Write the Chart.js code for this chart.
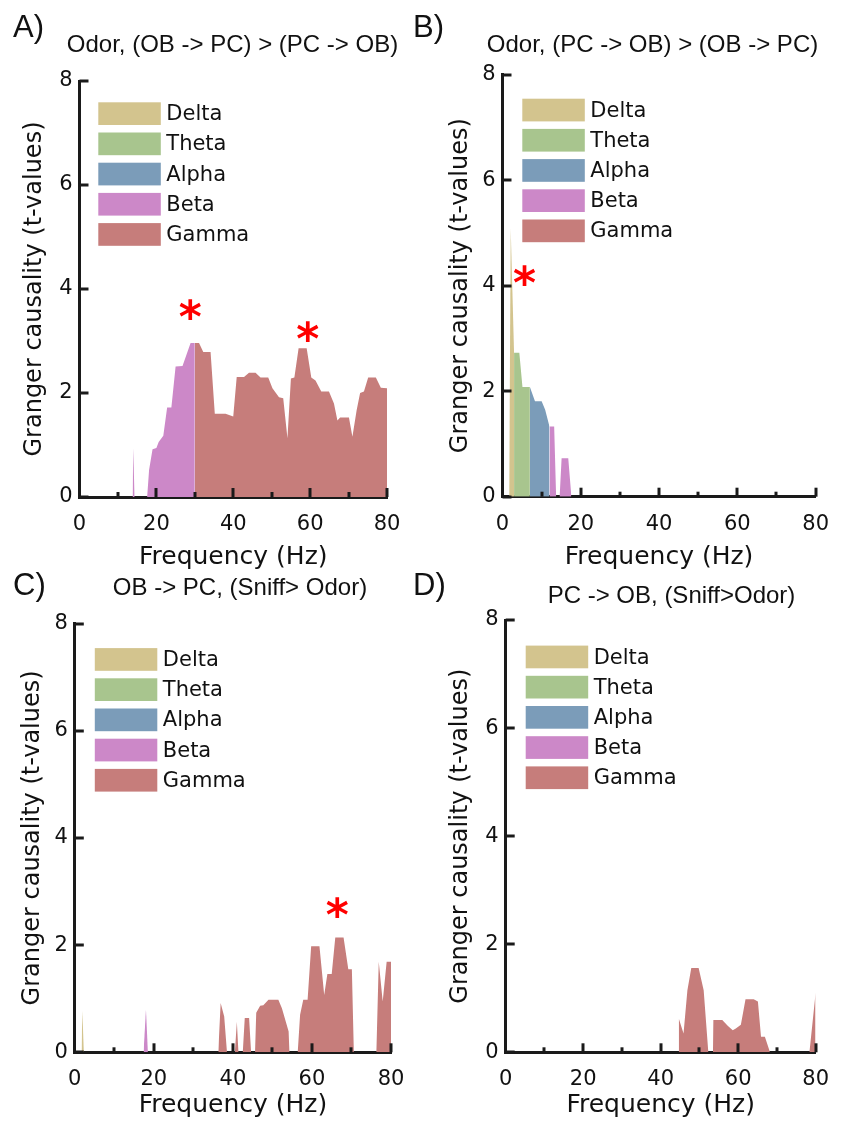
<!DOCTYPE html>
<html><head><meta charset="utf-8">
<script src="https://cdn.jsdelivr.net/npm/chart.js@4.4.1/dist/chart.umd.min.js"></script>
<style>
html,body{margin:0;padding:0;background:#fff;}
body{width:844px;height:1131px;position:relative;overflow:hidden;}
canvas{position:absolute;}
</style></head><body>
<canvas id="cA" width="422" height="585" style="left:0;top:0"></canvas>
<canvas id="cB" width="444" height="585" style="left:400px;top:0"></canvas>
<canvas id="cC" width="422" height="571" style="left:0;top:560px"></canvas>
<canvas id="cD" width="444" height="571" style="left:400px;top:560px"></canvas>
<script>
// ---------------- DATA ----------------
const bands = ['Delta', 'Theta', 'Alpha', 'Beta', 'Gamma'];
const xTickLabels = ['0', '20', '40', '60', '80'];
const yTickLabels = ['0', '2', '4', '6', '8'];

// Panel A: Odor, (OB -> PC) > (PC -> OB)
const aBetaHz  = [13.8, 14.0, 14.3, 17.6, 18.1, 19.0, 20.0, 20.6, 21.8, 22.8, 23.9, 25.0, 26.8, 28.9, 30.0];
const aBetaT   = [0, 0.94, 0, 0, 0.52, 0.92, 0.94, 1.06, 1.18, 1.72, 1.72, 2.51, 2.52, 2.96, 2.96];
const aGammaHz = [30.0, 31.1, 32.2, 34.1, 35.2, 38.0, 40.0, 40.9, 42.8, 44.1, 45.8, 47.1, 49.1, 50.2, 51.9, 53.0, 54.1, 55.0, 55.9, 57.0, 59.1, 60.3, 61.4, 62.9, 64.9, 66.2, 67.1, 67.8, 70.1, 71.0, 72.1, 73.0, 74.0, 75.1, 77.1, 78.4, 80.0];
const aGammaT  = [2.96, 2.96, 2.79, 2.79, 1.60, 1.60, 1.55, 2.31, 2.31, 2.39, 2.39, 2.30, 2.30, 2.09, 1.92, 1.90, 1.13, 2.28, 2.30, 2.86, 2.86, 2.30, 2.24, 2.03, 2.03, 1.80, 1.47, 1.53, 1.53, 1.16, 1.67, 2.00, 2.03, 2.30, 2.30, 2.10, 2.09];
const aStarHz  = [28.8, 59.4];
const aStarT   = [3.6, 3.19];

// Panel B: Odor, (PC -> OB) > (OB -> PC)
const bDeltaHz = [1.7, 2.1, 2.95];
const bDeltaT  = [0, 5.08, 2.73];
const bThetaHz = [2.95, 4.3, 5.1, 7.0];
const bThetaT  = [2.73, 2.73, 2.08, 2.08];
const bAlphaHz = [7.0, 8.3, 10.0, 10.9, 12.0];
const bAlphaT  = [2.08, 1.81, 1.81, 1.65, 1.33];
const bBetaHz  = [12.0, 13.2, 13.7, 14.6, 15.1, 16.8, 17.6];
const bBetaT   = [1.33, 1.33, 0, 0, 0.73, 0.73, 0];
const bStarHz  = [5.6];
const bStarT   = [4.2];

// Panel C: OB -> PC, (Sniff> Odor)
const cDeltaHz = [1.7, 1.9, 2.3];
const cDeltaT  = [0, 0.77, 0];
const cBetaHz  = [17.4, 18.0, 18.5];
const cBetaT   = [0, 0.80, 0];
const cGammaHz = [36.3, 36.9, 37.8, 38.5, 40.5, 41.0, 41.4, 42.5, 43.0, 44.1, 44.6, 45.6, 45.9, 46.9, 47.7, 49.0, 51.5, 52.4, 54.1, 54.3, 56.4, 57.0, 57.8, 58.9, 59.8, 61.9, 63.1, 63.9, 65.0, 65.9, 68.0, 69.2, 70.1, 70.6, 76.3, 76.9, 77.9, 78.9, 80.0];
const cGammaT  = [0, 0.92, 0.67, 0, 0, 0.57, 0, 0, 0.64, 0.64, 0, 0, 0.74, 0.87, 0.88, 0.98, 0.98, 0.82, 0.39, 0, 0, 0.70, 0.98, 0.98, 1.98, 1.98, 1.07, 1.46, 1.46, 2.14, 2.14, 1.55, 1.55, 0, 0, 1.69, 0.95, 1.69, 1.69];
const cStarHz  = [66.4];
const cStarT   = [2.7];

// Panel D: PC -> OB, (Sniff>Odor)
const dGammaHz = [44.6, 44.7, 45.9, 46.9, 47.9, 49.8, 51.1, 52.3, 53.5, 53.6, 55.9, 57.3, 58.6, 59.4, 60.7, 61.9, 64.0, 65.1, 65.9, 66.9, 67.9, 68.2, 78.4, 80.0];
const dGammaT  = [0, 0.62, 0.35, 1.15, 1.56, 1.56, 1.15, 0, 0, 0.60, 0.60, 0.49, 0.41, 0.44, 0.51, 0.98, 0.98, 0.94, 0.29, 0.29, 0.07, 0, 0, 1.10];

// ---------------- STYLE ----------------
const bandColors = ['#D3C48E', '#A8C58E', '#7B9CB9', '#CC88C8', '#C67D7B'];
const AXIS = '#1a1a1a';
const TXT = '#111111';
const SANS = '"DejaVu Sans", Verdana, sans-serif';
const ARIAL = '"Liberation Sans", Arial, sans-serif';

function pts(hz, t) { return hz.map((h, i) => ({x: h, y: t[i]})); }

const extras = {
  id: 'extras',
  afterDatasetsDraw(chart, args, o) {
    const ctx = chart.ctx, xs = chart.scales.x, ys = chart.scales.y, a = chart.chartArea;
    ctx.save();
    ctx.strokeStyle = AXIS; ctx.lineWidth = 3; ctx.lineCap = 'butt';
    ys.ticks.forEach(t => {
      const py = Math.round(ys.getPixelForValue(t.value));
      ctx.beginPath(); ctx.moveTo(a.left, py); ctx.lineTo(a.left + 9, py); ctx.stroke();
    });
    xs.ticks.forEach(t => {
      if (t.value === 0) return;
      const px = Math.round(xs.getPixelForValue(t.value));
      const len = (t.value % 20 === 0) ? 9 : 5;
      ctx.beginPath(); ctx.moveTo(px, a.bottom); ctx.lineTo(px, a.bottom - len); ctx.stroke();
    });
    // significance stars
    ctx.fillStyle = '#ff0000';
    ctx.font = 'bold 44px "DejaVu Sans"';
    ctx.textAlign = 'center'; ctx.textBaseline = 'alphabetic';
    const m = ctx.measureText('*');
    const off = (m.actualBoundingBoxAscent - m.actualBoundingBoxDescent) / 2;
    (o.starHz || []).forEach((h, i) => {
      ctx.fillText('*', xs.getPixelForValue(h), ys.getPixelForValue(o.starT[i]) + off);
    });
    ctx.restore();
  },
  afterDraw(chart, args, o) {
    const ctx = chart.ctx, a = chart.chartArea;
    ctx.save();
    // legend
    ctx.font = '21px ' + SANS; ctx.textAlign = 'left'; ctx.textBaseline = 'middle';
    chart.data.datasets.forEach((ds, i) => {
      const bx = a.left + o.legDX, by = a.top + o.legDY + i * 30.2;
      ctx.fillStyle = ds.backgroundColor;
      ctx.fillRect(bx, by, 62.5, 22.7);
      ctx.fillStyle = TXT;
      ctx.fillText(ds.label, bx + 68, by + 12.5);
    });
    // title
    ctx.fillStyle = TXT; ctx.textBaseline = 'alphabetic';
    ctx.font = o.titleSize + 'px ' + ARIAL; ctx.textAlign = 'center';
    ctx.fillText(o.title, o.titleX, o.titleY);
    // panel label
    ctx.font = '31px ' + ARIAL; ctx.textAlign = 'left';
    ctx.fillText(o.label, o.labelX, o.labelY);
    ctx.restore();
  }
};

function makeChart(id, series, L) {
  const datasets = bands.map((b, i) => ({
    label: b,
    data: series[i] ? pts(series[i][0], series[i][1]) : [],
    backgroundColor: bandColors[i],
    borderColor: 'rgba(0,0,0,0)',
    borderWidth: 0,
    pointRadius: 0,
    pointHoverRadius: 0,
    fill: 'origin',
    tension: 0
  }));
  return new Chart(document.getElementById(id), {
    type: 'line',
    data: {datasets},
    plugins: [extras],
    options: {
      responsive: false,
      animation: false,
      events: [],
      layout: {padding: {left: 0, top: L.top, right: L.right, bottom: 0}},
      plugins: {
        legend: {display: false},
        tooltip: {enabled: false},
        extras: L.extras
      },
      scales: {
        x: {
          type: 'linear', min: 0, max: 80,
          grid: {display: false, drawTicks: false},
          border: {display: true, width: 3, color: AXIS},
          ticks: {
            stepSize: 10, autoSkip: false, maxRotation: 0, padding: 15,
            color: TXT, font: {family: SANS, size: 21},
            callback: v => xTickLabels.includes(String(v)) ? String(v) : ''
          },
          title: {display: true, text: 'Frequency (Hz)', color: TXT,
                  font: {family: SANS, size: 25, lineHeight: 1}, padding: {top: 0, bottom: L.xTitlePad}},
          afterFit: s => { s.height = L.xH; }
        },
        y: {
          min: 0, max: 8,
          grid: {display: false, drawTicks: false},
          border: {display: true, width: 3, color: AXIS},
          ticks: {
            stepSize: 2, padding: 7, color: TXT, font: {family: SANS, size: 21},
            callback: v => yTickLabels.includes(String(v)) ? String(v) : ''
          },
          title: {display: true, text: 'Granger causality (t-values)', color: TXT,
                  font: {family: SANS, size: 24, lineHeight: 1}, padding: {top: L.yTitlePad, bottom: 0}},
          afterFit: s => { s.width = L.yW; }
        }
      }
    }
  });
}

makeChart('cA', [null, null, null, [aBetaHz, aBetaT], [aGammaHz, aGammaT]], {
  top: 81, right: 35, yW: 79.5, xH: 88, xTitlePad: 15.5, yTitlePad: 23,
  extras: {title: 'Odor, (OB -> PC) > (PC -> OB)', titleSize: 24, titleX: 232.5, titleY: 52,
           label: 'A)', labelX: 13, labelY: 37, legDX: 18.8, legDY: 21.3, starHz: aStarHz, starT: aStarT}
});
makeChart('cB', [[bDeltaHz, bDeltaT], [bThetaHz, bThetaT], [bAlphaHz, bAlphaT], [bBetaHz, bBetaT], null], {
  top: 74.7, right: 28, yW: 102.5, xH: 88.3, xTitlePad: 15.5, yTitlePad: 49,
  extras: {title: 'Odor, (PC -> OB) > (OB -> PC)', titleSize: 24, titleX: 252.5, titleY: 52,
           label: 'B)', labelX: 13, labelY: 37, legDX: 19.8, legDY: 24, starHz: bStarHz, starT: bStarT}
});
makeChart('cC', [[cDeltaHz, cDeltaT], null, null, [cBetaHz, cBetaT], [cGammaHz, cGammaT]], {
  top: 63.5, right: 31, yW: 74.8, xH: 78.7, xTitlePad: 13.5, yTitlePad: 21,
  extras: {title: 'OB -> PC, (Sniff> Odor)', titleSize: 24, titleX: 240, titleY: 35,
           label: 'C)', labelX: 13, labelY: 35, legDX: 20, legDY: 24.6, starHz: cStarHz, starT: cStarT}
});
makeChart('cD', [null, null, null, null, [dGammaHz, dGammaT]], {
  top: 60, right: 19.7, yW: 105.7, xH: 78.7, xTitlePad: 13.5, yTitlePad: 49,
  extras: {title: 'PC -> OB, (Sniff>Odor)', titleSize: 24, titleX: 271.5, titleY: 43,
           label: 'D)', labelX: 13, labelY: 35, legDX: 20, legDY: 25.6, starHz: [], starT: []}
});
</script>
</body></html>
